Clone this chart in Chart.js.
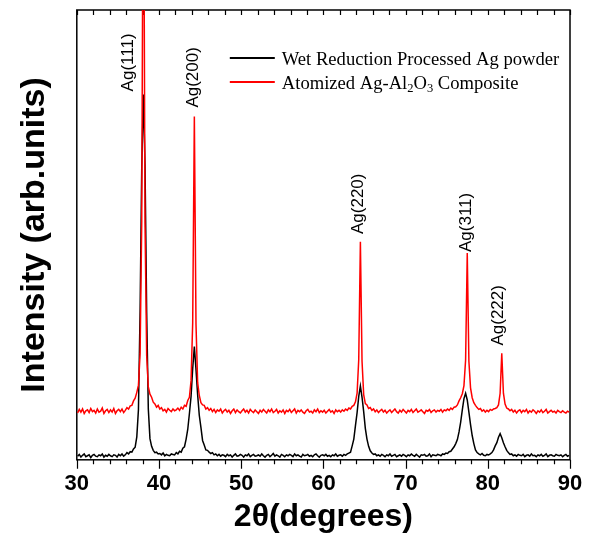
<!DOCTYPE html>
<html>
<head>
<meta charset="utf-8">
<script src="https://cdn.jsdelivr.net/npm/chart.js@4.4.1/dist/chart.umd.min.js"></script>
<style>
  html, body { margin: 0; padding: 0; background: #fff; }
  #wrap { width: 596px; height: 536px; position: relative; }
</style>
</head>
<body>
<div id="wrap"><canvas id="c"></canvas></div>
<script>
// 2-theta angles (degrees)
const angles = [
30.1,30.3,30.5,30.7,30.9,31.1,31.3,31.5,31.7,31.9,
32.1,32.3,32.5,32.7,32.9,33.1,33.3,33.5,33.7,33.9,
34.1,34.3,34.5,34.7,34.9,35.1,35.3,35.5,35.7,35.9,
36.1,36.3,36.5,36.7,36.9,37.1,37.3,37.5,37.7,37.9,
38.1,38.3,38.5,38.7,38.9,39.1,39.3,39.5,39.7,39.9,
40.1,40.3,40.5,40.7,40.9,41.1,41.3,41.5,41.7,41.9,
42.1,42.3,42.5,42.7,42.9,43.1,43.3,43.5,43.7,43.9,
44.1,44.3,44.5,44.7,44.9,45.1,45.3,45.5,45.7,45.9,
46.1,46.3,46.5,46.7,46.9,47.1,47.3,47.5,47.7,47.9,
48.1,48.3,48.5,48.7,48.9,49.1,49.3,49.5,49.7,49.9,
50.1,50.3,50.5,50.7,50.9,51.1,51.3,51.5,51.7,51.9,
52.1,52.3,52.5,52.7,52.9,53.1,53.3,53.5,53.7,53.9,
54.1,54.3,54.5,54.7,54.9,55.1,55.3,55.5,55.7,55.9,
56.1,56.3,56.5,56.7,56.9,57.1,57.3,57.5,57.7,57.9,
58.1,58.3,58.5,58.7,58.9,59.1,59.3,59.5,59.7,59.9,
60.1,60.3,60.5,60.7,60.9,61.1,61.3,61.5,61.7,61.9,
62.1,62.3,62.5,62.7,62.9,63.1,63.3,63.5,63.7,63.9,
64.1,64.3,64.5,64.7,64.9,65.1,65.3,65.5,65.7,65.9,
66.1,66.3,66.5,66.7,66.9,67.1,67.3,67.5,67.7,67.9,
68.1,68.3,68.5,68.7,68.9,69.1,69.3,69.5,69.7,69.9,
70.1,70.3,70.5,70.7,70.9,71.1,71.3,71.5,71.7,71.9,
72.1,72.3,72.5,72.7,72.9,73.1,73.3,73.5,73.7,73.9,
74.1,74.3,74.5,74.7,74.9,75.1,75.3,75.5,75.7,75.9,
76.1,76.3,76.5,76.7,76.9,77.1,77.3,77.5,77.7,77.9,
78.1,78.3,78.5,78.7,78.9,79.1,79.3,79.5,79.7,79.9,
80.1,80.3,80.5,80.7,80.9,81.1,81.3,81.5,81.7,81.9,
82.1,82.3,82.5,82.7,82.9,83.1,83.3,83.5,83.7,83.9,
84.1,84.3,84.5,84.7,84.9,85.1,85.3,85.5,85.7,85.9,
86.1,86.3,86.5,86.7,86.9,87.1,87.3,87.5,87.7,87.9,
88.1,88.3,88.5,88.7,88.9,89.1,89.3,89.5,89.7,89.9
];

// Wet Reduction Processed Ag powder (arb. units)
const wetReduction = [
8,12,6,10,13,7,9,11,5,10,
12,8,7,11,9,13,6,10,8,12,
9,7,11,10,6,12,9,13,8,11,
16,13,18,17,24,28,51,112,331,650,
812,655,328,113,47,30,21,16,17,13,
14,11,15,9,12,10,9,13,12,11,
16,13,19,17,26,29,46,68,103,141,
203,252,201,145,99,72,43,33,22,21,
17,14,16,11,13,9,12,8,11,10,
7,12,9,11,6,10,13,8,9,12,
10,6,11,9,13,7,10,12,8,9,
11,8,13,9,6,10,12,7,10,14,
8,11,9,6,12,10,7,11,9,12,
10,7,13,9,11,8,6,12,9,10,
12,8,10,7,11,13,9,6,10,11,
9,12,8,10,7,11,9,13,8,10,
11,8,12,10,13,15,17,31,46,76,
105,141,164,139,107,70,46,30,20,15,
12,13,9,11,8,12,10,7,11,9,
13,8,10,12,7,9,11,8,12,10,
7,11,9,13,10,8,12,9,6,11,
10,12,8,9,13,7,11,10,9,12,
11,9,13,12,15,14,18,19,24,29,
36,45,62,84,111,136,148,133,106,78,
54,36,22,16,13,11,14,10,9,12,
11,13,16,22,31,38,50,58,49,38,
29,21,16,12,13,9,11,8,12,10,
9,12,7,10,11,8,13,9,10,7,
11,9,12,8,10,13,7,10,11,9,
8,12,10,9,11,7,10,12,8,10
];

// Atomized Ag-Al2O3 Composite (arb. units, offset)
const atomized = [
104,112,106,113,103,109,111,105,114,107,
110,104,113,106,108,115,103,109,112,105,
111,106,114,103,109,112,107,113,105,110,
116,113,120,121,131,137,150,166,236,530,
1508,525,232,162,146,139,128,124,117,121,
113,116,109,112,106,114,110,107,113,109,
111,115,110,117,113,121,119,132,139,176,
305,763,302,172,143,127,122,121,113,116,
110,114,107,112,105,111,108,113,104,109,
112,106,110,103,109,113,105,111,107,104,
109,113,106,110,104,112,108,105,111,107,
103,110,106,112,108,104,111,107,113,105,
108,112,104,109,106,111,103,110,107,112,
105,109,113,104,110,107,111,106,103,109,
112,106,108,104,111,107,113,105,109,106,
110,104,108,112,106,109,103,111,107,110,
106,111,108,113,110,115,113,119,121,129,
148,223,485,219,145,125,122,114,116,110,
113,107,111,105,109,112,106,110,104,108,
111,105,109,113,107,104,110,106,112,108,
104,110,107,112,105,109,113,106,108,111,
107,103,110,108,112,105,109,111,106,110,
108,112,106,111,109,113,110,115,112,117,
118,122,131,138,147,165,222,460,219,160,
138,127,121,116,112,114,108,111,106,110,
107,112,110,113,114,116,122,148,237,148,
124,115,113,109,112,106,110,104,109,111,
105,110,107,112,104,109,106,111,108,103,
109,106,111,105,108,112,104,107,110,106,
108,104,110,107,105,109,106,104,108,106
];

const seriesLabels = ['Wet Reduction Processed Ag powder', 'Atomized Ag-Al2O3 Composite'];
const seriesColors = ['#000000', '#ff0000'];

// Peak annotations (angle, intensity at text start)
const peakNames = ['Ag(111)', 'Ag(200)', 'Ag(220)', 'Ag(311)', 'Ag(222)'];
const peakLabelAngle = [36.25, 44.15, 64.2, 77.35, 81.25];
const peakLabelIntensity = [819, 783, 502, 462, 254];

// Axis
const xMin = 30, xMax = 90, xStep = 2;
const xMajorLabels = [30, 40, 50, 60, 70, 80, 90];
const yMin = 0, yMax = 1000;

const SANS = "'Liberation Sans', Arial, Helvetica, sans-serif";
const SERIF = "'Liberation Serif', 'Times New Roman', serif";

const framePlugin = {
  id: 'frameTicks',
  beforeDatasetsDraw(chart) {
    const {ctx, chartArea: a, scales: {x}} = chart;
    ctx.save();
    ctx.strokeStyle = '#000';
    ctx.lineWidth = 1.2;
    ctx.beginPath();
    x.ticks.forEach(t => {
      const px = Math.round(x.getPixelForValue(t.value)) + 0.5;
      const major = xMajorLabels.includes(t.value);
      ctx.moveTo(px, a.bottom);
      ctx.lineTo(px, a.bottom + (major ? 9 : 4.5));
      ctx.moveTo(px, a.top);
      ctx.lineTo(px, a.top + 5);
    });
    ctx.stroke();
    ctx.lineWidth = 1.5;
    ctx.strokeRect(a.left, a.top, a.right - a.left, a.bottom - a.top);
    ctx.restore();
  },
  afterDatasetsDraw(chart) {
    const {ctx, chartArea: a, scales: {x, y}} = chart;
    ctx.save();
    // peak labels
    ctx.fillStyle = '#000';
    ctx.font = '17px ' + SANS;
    ctx.textAlign = 'left';
    ctx.textBaseline = 'middle';
    peakNames.forEach((name, i) => {
      const px = x.getPixelForValue(peakLabelAngle[i]);
      const py = y.getPixelForValue(peakLabelIntensity[i]);
      ctx.save();
      ctx.translate(px, py);
      ctx.rotate(-Math.PI / 2);
      ctx.fillText(name, 0, 0);
      ctx.restore();
    });
    // legend
    const lx = a.left + 153, ly0 = a.top + 48, gap = 24;
    chart.data.datasets.forEach((ds, i) => {
      const ly = ly0 + i * gap;
      ctx.strokeStyle = ds.borderColor;
      ctx.lineWidth = 2;
      ctx.beginPath();
      ctx.moveTo(lx, ly);
      ctx.lineTo(lx + 45, ly);
      ctx.stroke();
      ctx.fillStyle = '#000';
      ctx.textBaseline = 'alphabetic';
      let tx = lx + 52;
      const base = ly + 7;
      const parts = ds.label.split(/(\d)/);
      parts.forEach(p => {
        if (!p) return;
        if (/^\d$/.test(p)) {
          ctx.font = '12.5px ' + SERIF;
          ctx.fillText(p, tx, base + 3);
        } else {
          ctx.font = '18.6px ' + SERIF;
          ctx.fillText(p, tx, base);
        }
        tx += ctx.measureText(p).width;
      });
    });
    ctx.restore();
  }
};

new Chart(document.getElementById('c'), {
  type: 'line',
  data: {
    labels: angles,
    datasets: [
      { label: seriesLabels[0], data: wetReduction, borderColor: seriesColors[0], borderWidth: 1.5, pointRadius: 0, tension: 0, order: 2 },
      { label: seriesLabels[1], data: atomized, borderColor: seriesColors[1], borderWidth: 1.5, pointRadius: 0, tension: 0, order: 1 }
    ]
  },
  options: {
    responsive: true,
    maintainAspectRatio: false,
    animation: false,
    events: [],
    layout: { padding: { top: 10, right: 26, bottom: 0, left: 0 } },
    plugins: { legend: { display: false }, tooltip: { enabled: false } },
    scales: {
      x: {
        type: 'linear', min: xMin, max: xMax,
        border: { display: false },
        grid: { display: true, drawOnChartArea: false, drawTicks: true, tickLength: 9, tickColor: 'rgba(0,0,0,0)' },
        ticks: {
          stepSize: xStep, autoSkip: false, maxRotation: 0, padding: 2, color: '#000',
          font: { family: SANS, size: 22, weight: 'bold' },
          callback: v => xMajorLabels.includes(v) ? String(v) : ''
        },
        title: { display: true, text: '2θ(degrees)', color: '#000', padding: { top: 0, bottom: 0 },
          font: { family: SANS, size: 32, weight: 'bold', lineHeight: 1.15 } }
      },
      y: {
        min: yMin, max: yMax,
        border: { display: false },
        grid: { display: false, drawTicks: false },
        ticks: { display: false },
        title: { display: true, text: 'Intensity (arb.units)', color: '#000', padding: { top: 14, bottom: 22 },
          font: { family: SANS, size: 34, weight: 'bold', lineHeight: 1.2 } }
      }
    }
  },
  plugins: [framePlugin]
});
</script>
</body>
</html>
